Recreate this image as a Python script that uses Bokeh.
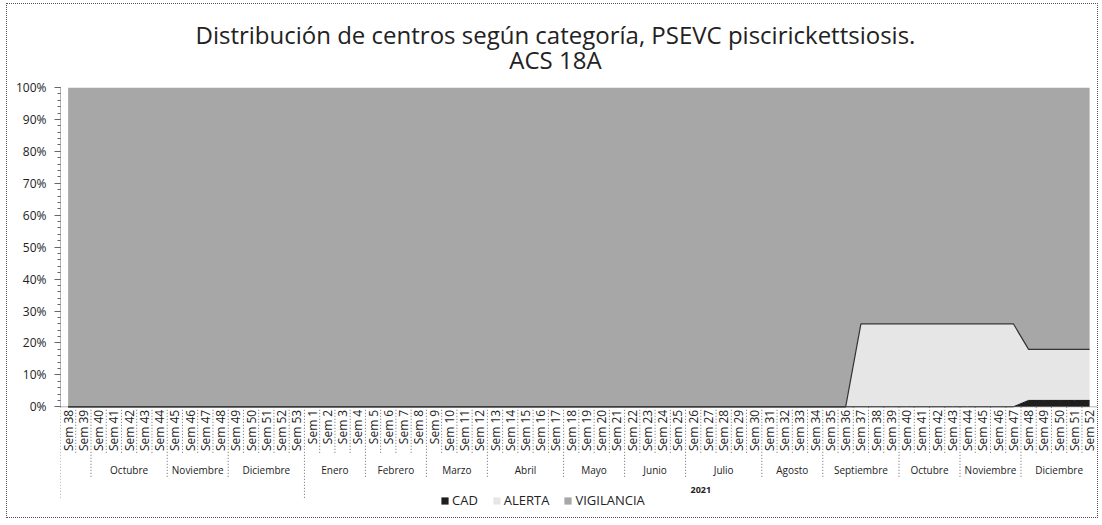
import math
from bokeh.plotting import figure
from bokeh.models import (ColumnDataSource, Range1d, FixedTicker, NumeralTickFormatter,
                          Legend, LegendItem, Title, Span)
from bokeh.core.properties import value
from bokeh.transform import stack
from bokeh.embed import file_html
from bokeh.resources import INLINE

# ---------------- data ----------------
weeks = ["Sem 38", "Sem 39", "Sem 40", "Sem 41", "Sem 42", "Sem 43", "Sem 44", "Sem 45",
         "Sem 46", "Sem 47", "Sem 48", "Sem 49", "Sem 50", "Sem 51", "Sem 52", "Sem 53",
         "Sem 1", "Sem 2", "Sem 3", "Sem 4", "Sem 5", "Sem 6", "Sem 7", "Sem 8",
         "Sem 9", "Sem 10", "Sem 11", "Sem 12", "Sem 13", "Sem 14", "Sem 15", "Sem 16",
         "Sem 17", "Sem 18", "Sem 19", "Sem 20", "Sem 21", "Sem 22", "Sem 23", "Sem 24",
         "Sem 25", "Sem 26", "Sem 27", "Sem 28", "Sem 29", "Sem 30", "Sem 31", "Sem 32",
         "Sem 33", "Sem 34", "Sem 35", "Sem 36", "Sem 37", "Sem 38", "Sem 39", "Sem 40",
         "Sem 41", "Sem 42", "Sem 43", "Sem 44", "Sem 45", "Sem 46", "Sem 47", "Sem 48",
         "Sem 49", "Sem 50", "Sem 51", "Sem 52"]

month_labels = ["", "Octubre", "Noviembre", "Diciembre", "Enero", "Febrero", "Marzo", "Abril",
                "Mayo", "Junio", "Julio", "Agosto", "Septiembre", "Octubre", "Noviembre", "Diciembre"]
month_weeks = [2, 5, 4, 5, 4, 4, 4, 5, 4, 4, 5, 4, 5, 4, 4, 5]

year_labels = ["", "2021"]
year_weeks = [16, 52]

# percentages of centres per category
cad = [0, 0, 0, 0, 0, 0, 0, 0, 0, 0, 0, 0, 0, 0, 0, 0,
       0, 0, 0, 0, 0, 0, 0, 0, 0, 0, 0, 0, 0, 0, 0, 0,
       0, 0, 0, 0, 0, 0, 0, 0, 0, 0, 0, 0, 0, 0, 0, 0,
       0, 0, 0, 0, 0, 0, 0, 0, 0, 0, 0, 0, 0, 0, 0, 2,
       2, 2, 2, 2]
alerta = [0, 0, 0, 0, 0, 0, 0, 0, 0, 0, 0, 0, 0, 0, 0, 0,
          0, 0, 0, 0, 0, 0, 0, 0, 0, 0, 0, 0, 0, 0, 0, 0,
          0, 0, 0, 0, 0, 0, 0, 0, 0, 0, 0, 0, 0, 0, 0, 0,
          0, 0, 0, 0, 26, 26, 26, 26, 26, 26, 26, 26, 26, 26, 26, 16,
          16, 16, 16, 16]
vigilancia = [100, 100, 100, 100, 100, 100, 100, 100, 100, 100, 100, 100, 100, 100, 100, 100,
              100, 100, 100, 100, 100, 100, 100, 100, 100, 100, 100, 100, 100, 100, 100, 100,
              100, 100, 100, 100, 100, 100, 100, 100, 100, 100, 100, 100, 100, 100, 100, 100,
              100, 100, 100, 100, 74, 74, 74, 74, 74, 74, 74, 74, 74, 74, 74, 82,
              82, 82, 82, 82]

y_ticks = [0, 0.1, 0.2, 0.3, 0.4, 0.5, 0.6, 0.7, 0.8, 0.9, 1.0]

title_text = "Distribución de centros según categoría, PSEVC piscirickettsiosis.\nACS 18A"

# ---------------- layout constants ----------------
FONT = "Open Sans"
TXT = "#222222"
SEP = "#666666"
W, H = 1092, 515
LEFT = 53
TOP, PLOT_H = 78, 323           # frame top, pixel height of the 0..100 % band
PX = 1.0 / PLOT_H                # data units per pixel (vertical)
Y_BOTTOM = -(H - TOP - PLOT_H) * PX


def groups(spans):
    starts, s = [], 0
    for n in spans:
        starts.append(s)
        s += n
    centers = [st + (n - 1) / 2 for st, n in zip(starts, spans)]
    bounds = [st - 0.5 for st in starts]
    return centers, bounds


x = list(range(len(weeks)))
m_centers, m_bounds = groups(month_weeks)
yr_centers, yr_bounds = groups(year_weeks)

src = ColumnDataSource(dict(
    x=x,
    CAD=[v / 100 for v in cad],
    ALERTA=[v / 100 for v in alerta],
    VIGILANCIA=[v / 100 for v in vigilancia],
))

p = figure(width=W, height=H, x_range=Range1d(-0.5, len(weeks) - 0.35),
           y_range=Range1d(Y_BOTTOM, 1.0),
           output_backend="svg", toolbar_location=None, x_axis_location=None,
           min_border_left=LEFT, min_border_right=0, min_border_top=TOP, min_border_bottom=0,
           background_fill_color="white", border_fill_color="white")
p.outline_line_color = None
p.grid.visible = False
p.styles = {"border": "1px dotted #555555", "margin-left": "6px", "margin-top": "3px"}

title = Title(text=title_text, align="left", offset=135, text_font=FONT,
              text_font_size="24px", text_font_style="normal", text_color=TXT,
              text_align="center", text_line_height=0.77, standoff=23)
p.add_layout(title, "above")

colors = ["#1e1e1e", "#e6e6e6", "#a7a7a7"]
areas = p.varea_stack(["CAD", "ALERTA", "VIGILANCIA"], x="x", source=src, color=colors)
p.line(x="x", y=stack("CAD", "ALERTA"), source=src, line_color="#333333", line_width=1.2)
p.line(x="x", y=stack("CAD"), source=src, line_color="#111111", line_width=1)

# y axis (limited to the 0..100 % band)
yax = p.yaxis[0]
yax.bounds = (0, 1)
yax.ticker = FixedTicker(ticks=y_ticks, minor_ticks=[i / 50 for i in range(51)])
yax.formatter = NumeralTickFormatter(format="0%")
yax.major_label_text_font = FONT
yax.major_label_text_font_size = "12px"
yax.major_label_text_color = TXT
yax.major_tick_out = 6
yax.major_tick_in = 0
yax.minor_tick_out = 3
yax.minor_tick_in = 0
yax.major_label_standoff = 8
yax.axis_line_dash = "1 1"
yax.axis_line_color = SEP
yax.major_tick_line_color = SEP
yax.minor_tick_line_color = SEP

# category axis baseline
p.add_layout(Span(location=0, dimension="width", line_color=SEP, line_dash="1 1", line_width=1))

# week labels
p.text(x=x, y=[-3 * PX] * len(x), text=weeks, angle=math.pi / 2,
       text_align="right", text_baseline="middle",
       text_font=value(FONT), text_font_size="12px", text_color=TXT)

# month labels
p.text(x=m_centers, y=[-64 * PX] * len(m_centers), text=month_labels,
       text_align="center", text_baseline="middle",
       text_font=value(FONT), text_font_size="10px", text_color=TXT)

# year labels
p.text(x=yr_centers, y=[-84 * PX] * len(yr_centers), text=year_labels,
       text_align="center", text_baseline="middle",
       text_font=value(FONT), text_font_size="9px", text_color=TXT, text_font_style="bold")

# separators of the multi-level category axis
week_sep = [i + 0.5 for i in range(len(weeks) - 1) if (i + 0.5) not in m_bounds]
month_sep = [b for b in m_bounds if b not in yr_bounds]
p.segment(x0=week_sep, y0=[0] * len(week_sep), x1=week_sep, y1=[-47 * PX] * len(week_sep),
          line_color=SEP, line_dash="1 2", line_width=1)
p.segment(x0=month_sep, y0=[0] * len(month_sep), x1=month_sep, y1=[-72 * PX] * len(month_sep),
          line_color=SEP, line_dash="1 2", line_width=1)
p.segment(x0=yr_bounds, y0=[0] * len(yr_bounds), x1=yr_bounds, y1=[-94 * PX] * len(yr_bounds),
          line_color=SEP, line_dash="1 2", line_width=1)

legend = Legend(items=[LegendItem(label="CAD", renderers=[areas[0]]),
                       LegendItem(label="ALERTA", renderers=[areas[1]]),
                       LegendItem(label="VIGILANCIA", renderers=[areas[2]])],
                orientation="horizontal", location=(380, 10),
                label_text_font=FONT, label_text_font_size="13px", label_text_color=TXT,
                glyph_width=9, glyph_height=9, label_height=14, spacing=14, padding=2,
                margin=0, label_standoff=3, border_line_color=None, background_fill_alpha=0)
p.add_layout(legend, "center")

open("out.html", "w").write(file_html(p, INLINE))
